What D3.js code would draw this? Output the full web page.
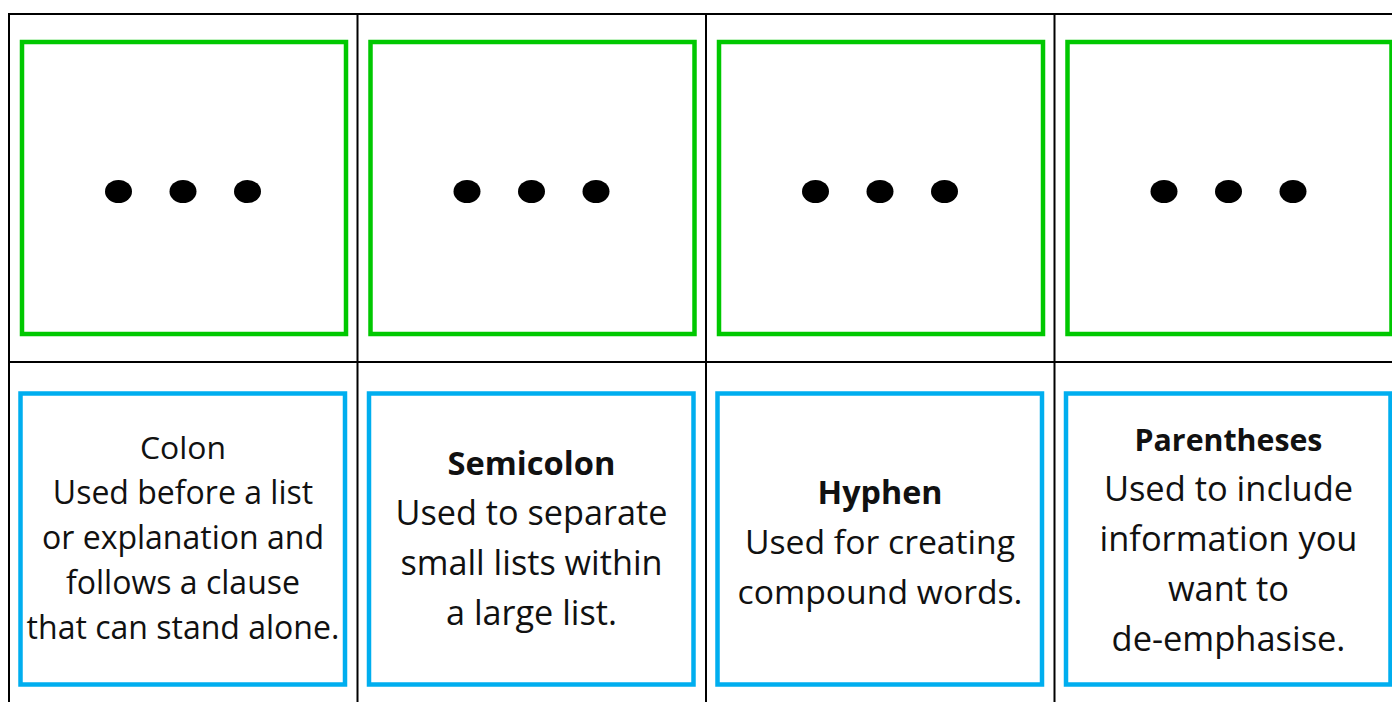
<!DOCTYPE html>
<html>
<head>
<meta charset="utf-8">
<script src="https://cdn.jsdelivr.net/npm/d3@7"></script>
<style>
  html, body { margin: 0; padding: 0; background: #ffffff; overflow: hidden; }
  svg { display: block; }
</style>
</head>
<body>
<svg id="chart" width="1392" height="702"></svg>
<script>
// ---- data ----
const categories = ["Colon", "Semicolon", "Hyphen", "Parentheses"];
const titles = ["Colon", "Semicolon", "Hyphen", "Parentheses"];
const descriptions = [
  ["Used before a list", "or explanation and", "follows a clause", "that can stand alone."],
  ["Used to separate", "small lists within", "a large list."],
  ["Used for creating", "compound words."],
  ["Used to include", "information you", "want to", "de-emphasise."]
];
const dotCounts = [3, 3, 3, 3];

// ---- layout / style ----
const W = 1392, H = 702;
const gridLeft = 9, cellW = 348.5, gridTop = 14, rowSplit = 362;
const titleBold = [false, true, true, true];
const lineHeights = [45, 50, 50, 50];
const targetWidths = [313, 272, 285, 258];
const titleWidths = [86, 168, 125, 188];
const textCenterY = [549, 550, 554, 551];
const fontFamily = "'Open Sans', 'Noto Sans', sans-serif";

const svg = d3.select("#chart");

const x = d3.scaleBand().domain(categories).range([gridLeft, gridLeft + cellW * categories.length]).paddingInner(0).paddingOuter(0);

// dots scale relative to cell
const dotX = d3.scalePoint().domain(d3.range(3)).range([109.5, 238.5]);

// grid lines
const grid = svg.append("g").attr("stroke", "#000").attr("stroke-width", 2).attr("fill", "none");
grid.append("line").attr("x1", gridLeft - 1).attr("x2", W + 20).attr("y1", gridTop).attr("y2", gridTop);
grid.append("line").attr("x1", gridLeft).attr("x2", W + 20).attr("y1", rowSplit).attr("y2", rowSplit);
categories.forEach(c => {
  grid.append("line").attr("x1", x(c)).attr("x2", x(c)).attr("y1", gridTop).attr("y2", H + 5);
});

const cards = svg.selectAll("g.card").data(categories).join("g")
  .attr("class", "card")
  .attr("transform", d => `translate(${x(d)},0)`);

// green boxes
cards.append("rect")
  .attr("x", 13).attr("y", 42).attr("width", 324).attr("height", 292)
  .attr("fill", "none").attr("stroke", "#00c800").attr("stroke-width", 4.5);

// dots
cards.each(function(d, i) {
  d3.select(this).selectAll("ellipse").data(d3.range(dotCounts[i])).join("ellipse")
    .attr("cx", k => dotX(k)).attr("cy", 191.5)
    .attr("rx", 13.5).attr("ry", 11.5).attr("fill", "#000");
});

// blue boxes
cards.append("rect")
  .attr("x", 11.5).attr("y", 393.5).attr("width", 324.5).attr("height", 291)
  .attr("fill", "none").attr("stroke", "#00aeef").attr("stroke-width", 4.5);

// text
cards.each(function(d, i) {
  const g = d3.select(this);
  const lines = [titles[i]].concat(descriptions[i]);
  const n = lines.length;
  const cx = 174;
  const texts = g.selectAll("text").data(lines).join("text")
    .attr("x", cx)
    .attr("y", (t, k) => textCenterY[i] + (k - (n - 1) / 2) * lineHeights[i])
    .attr("text-anchor", "middle")
    .attr("font-family", fontFamily)
    .attr("font-size", 28)
    .attr("font-weight", (t, k) => (k === 0 && titleBold[i]) ? 700 : 400)
    .attr("fill", "#111")
    .text(t => t);
  // fit font-size so the widest description line matches reference width
  let maxW = 0, titleW = 0;
  texts.each(function(t, k) {
    const w = this.getComputedTextLength();
    if (k > 0) maxW = Math.max(maxW, w); else titleW = w;
  });
  const fs = 28 * targetWidths[i] / maxW;
  const tfs = 28 * titleWidths[i] / titleW;
  texts.attr("font-size", (t, k) => k === 0 ? tfs : fs);
});
</script>
</body>
</html>
